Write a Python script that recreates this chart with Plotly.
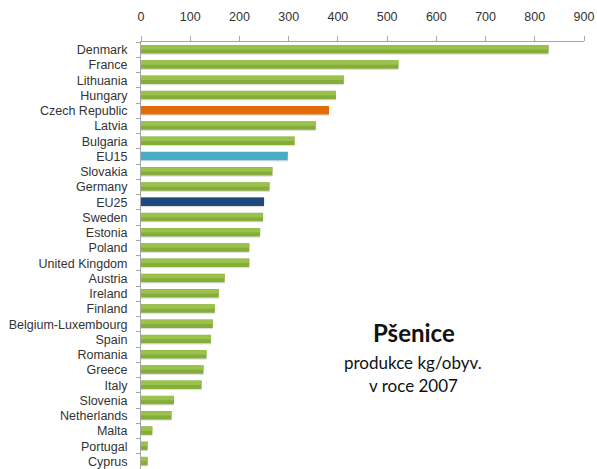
import plotly.graph_objects as go

countries = ["Denmark", "France", "Lithuania", "Hungary", "Czech Republic", "Latvia",
             "Bulgaria", "EU15", "Slovakia", "Germany", "EU25", "Sweden", "Estonia",
             "Poland", "United Kingdom", "Austria", "Ireland", "Finland",
             "Belgium-Luxembourg", "Spain", "Romania", "Greece", "Italy", "Slovenia",
             "Netherlands", "Malta", "Portugal", "Cyprus"]
values = [828, 523, 412, 396, 382, 355, 312, 298, 267, 261, 250, 248, 242,
          220, 220, 170, 158, 150, 146, 142, 133, 127, 123, 67, 62, 23, 13.5, 13.5]

special = {"Czech Republic": "#E36C0A", "EU15": "#4BACC6", "EU25": "#1F497D"}
base_colors = [special.get(c, "#84AD3A") for c in countries]
top_colors = [special.get(c, "#9BC24C") for c in countries]

fig = go.Figure()
# shadow
fig.add_trace(go.Bar(y=countries, x=values, orientation="h",
                     marker=dict(color="rgba(0,0,0,0.12)", line=dict(width=0)),
                     width=0.58, offset=-0.25, hoverinfo="skip", showlegend=False))
# main bar
fig.add_trace(go.Bar(y=countries, x=values, orientation="h",
                     marker=dict(color=base_colors, line=dict(width=0)),
                     width=0.56, offset=-0.30, showlegend=False))
# highlight (upper part lighter)
fig.add_trace(go.Bar(y=countries, x=values, orientation="h",
                     marker=dict(color=top_colors, line=dict(width=0)),
                     width=0.27, offset=-0.28, hoverinfo="skip", showlegend=False))

W, H = 597, 469
ML, MR, MT, MB = 141, 13, 42, 0

def px(xp, yp):
    pw = W - ML - MR
    ph = H - MT - MB
    return (xp - ML) / pw, 1 - (yp - MT) / ph

ann = []
for txt, xp, yp, size, bold in [("Pšenice", 414, 332, 24, True),
                                 ("produkce kg/obyv.", 413, 362, 17, False),
                                 ("v roce 2007", 413, 385, 17, False)]:
    ax, ay = px(xp, yp)
    ann.append(dict(text=f"<b>{txt}</b>" if bold else txt, x=ax, y=ay,
                    xref="paper", yref="paper",
                    xanchor="center", yanchor="middle", showarrow=False,
                    font=dict(family="Lato, Open Sans, sans-serif", size=size, color="#111111")))

fig.update_layout(
    width=W, height=H,
    margin=dict(l=ML, r=MR, t=MT, b=MB),
    paper_bgcolor="white", plot_bgcolor="white",
    barmode="overlay",
    font=dict(family="Liberation Sans, Arial, sans-serif", size=12, color="#333333"),
    xaxis=dict(range=[0, 900], dtick=100, side="top", showgrid=False, zeroline=False,
               showline=True, linecolor="#A6A6A6", linewidth=1,
               ticks="outside", ticklen=5, tickcolor="#A6A6A6", automargin=False,
               ticklabelstandoff=10,
               tickfont=dict(size=12.5, color="#333333"), fixedrange=True),
    yaxis=dict(autorange="reversed", showgrid=False, zeroline=False,
               showline=True, linecolor="#A6A6A6", linewidth=1, automargin=False,
               ticks="outside", ticklen=4, tickcolor="#A6A6A6", tickson="boundaries",
               tickfont=dict(size=12.5, color="#333333"), ticklabelstandoff=10),
    annotations=ann,
)

fig.write_html("out.html", config={"displayModeBar": False},
               post_script="document.body.style.margin='0';document.body.style.overflow='hidden';")
